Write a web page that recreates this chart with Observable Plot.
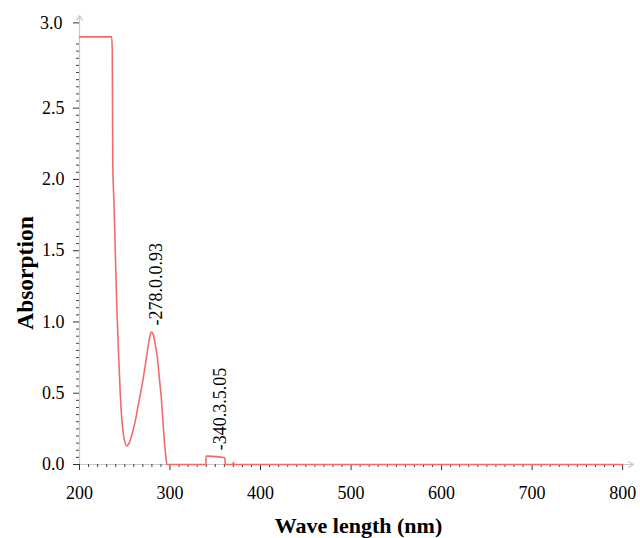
<!DOCTYPE html>
<html>
<head>
<meta charset="utf-8">
<script src="https://cdn.jsdelivr.net/npm/d3@7"></script>
<script src="https://cdn.jsdelivr.net/npm/@observablehq/plot@0.6"></script>
<style>
  html, body { margin: 0; padding: 0; background: #fff; }
  #chart svg { display: block; font-family: 'Liberation Serif', 'Times New Roman', serif; }
  #chart svg text { font-family: 'Liberation Serif', 'Times New Roman', serif; }
</style>
</head>
<body>
<div id="chart"></div>
<script>
const wavelength = [200, 235.5, 236.2, 236.5, 236.8, 238, 239.5, 241, 243, 245, 247, 249, 250.5, 252, 254, 256, 258, 260, 263, 265, 267.4, 270, 273, 276.6, 278, 279.2, 280.5, 282, 284, 286, 288.3, 290.6, 292, 293.1, 294, 295, 296, 296.5, 339.5, 340, 345, 352, 358, 360.5, 361, 369.5, 370, 370.5, 800];
const absorbance = [3.0, 3.0, 2.9, 2.5, 2.1, 1.85, 1.5, 1.15, 0.8, 0.5, 0.3, 0.19, 0.15, 0.13, 0.14, 0.17, 0.21, 0.26, 0.35, 0.42, 0.5, 0.59, 0.71, 0.86, 0.905, 0.93, 0.925, 0.9, 0.83, 0.75, 0.6, 0.45, 0.32, 0.22, 0.14, 0.08, 0.02, 0.0, 0.0, 0.06, 0.058, 0.055, 0.05, 0.048, 0.0, 0.0, 0.015, 0.0, 0.0];

const peakX = [279.2, 350];
const peakY = [0.93, 0.055];
const peakLabels = ["-278.0.0.93", "-340.3.5.05"];

const xTicks = [200, 300, 400, 500, 600, 700, 800];
const yTicks = [0.0, 0.5, 1.0, 1.5, 2.0, 2.5];
const yTopTick = [3.0];
const xTitle = "Wave length (nm)";
const yTitle = "Absorption";

const serif = "'Liberation Serif', 'Times New Roman', serif";
const data = wavelength.map((w, i) => ({w, a: absorbance[i]}));
const peaks = peakX.map((x, i) => ({x, y: peakY[i], label: peakLabels[i]}));
const xMinor = d3.range(200, 801, 10).filter(v => v % 100 !== 0);
const yMinor = d3.range(0, 3.001, 0.05).map(v => +v.toFixed(2)).filter(v => Math.abs(v * 2 - Math.round(v * 2)) > 1e-6);

const chart = Plot.plot({
  width: 640,
  height: 538,
  marginLeft: 79,
  marginRight: 7,
  marginTop: 15,
  marginBottom: 74,
  style: "font-family: 'Liberation Serif', 'Times New Roman', serif; background: #fff;",
  x: {domain: [200, 812]},
  y: {domain: [0, 3.15]},
  marks: [
    Plot.arrow([0], {x1: 200, y1: 0, x2: 812, y2: 0, stroke: "#c8c8c8", strokeWidth: 1.2, headLength: 7}),
    Plot.arrow([0], {x1: 200, y1: 0, x2: 200, y2: 3.15, stroke: "#c8c8c8", strokeWidth: 1.2, headLength: 7}),
    Plot.axisX({ticks: xMinor, tickSize: 3, tickFormat: () => "", stroke: "#444", label: null}),
    Plot.axisY({ticks: yMinor, tickSize: 3, tickFormat: () => "", stroke: "#444", label: null}),
    Plot.axisX({ticks: xTicks, tickSize: 6, tickPadding: 16, tickFormat: d => String(d), fontSize: 18, fontFamily: serif, stroke: "#333", fill: "#000", label: null}),
    Plot.axisY({ticks: yTicks, tickSize: 6, tickPadding: 9, tickFormat: d => d.toFixed(1), fontSize: 18, fontFamily: serif, stroke: "#333", fill: "#000", label: null}),
    Plot.axisY({ticks: yTopTick, tickSize: 6, tickPadding: 11, tickFormat: d => d.toFixed(1), fontSize: 18, fontFamily: serif, stroke: "#333", fill: "#000", dy: -14, label: null}),
    Plot.line(data, {x: "w", y: "a", stroke: "#f26b6b", strokeWidth: 1.6, curve: "monotone-x"}),
    Plot.text(peaks, {x: "x", y: "y", text: "label", rotate: -90, textAnchor: "start", dx: 5, dy: -6.5, fontSize: 18, fontFamily: serif, fill: "#000"}),
    Plot.text([xTitle], {frameAnchor: "bottom", textAnchor: "middle", lineAnchor: "middle", dx: 2, dy: 61, fontSize: 22, fontWeight: "bold", fontFamily: serif, fill: "#000"}),
    Plot.text([yTitle], {frameAnchor: "left", textAnchor: "middle", lineAnchor: "middle", rotate: -90, dx: -54, dy: 33, fontSize: 23.5, fontWeight: "bold", fontFamily: serif, fill: "#000"})
  ]
});
document.getElementById("chart").appendChild(chart);
</script>
</body>
</html>
